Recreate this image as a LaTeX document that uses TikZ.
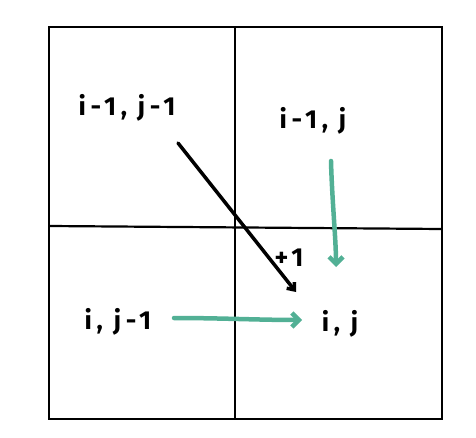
\documentclass[tikz,border=0pt]{standalone}
\usepackage{fontspec}
\setmainfont[LetterSpace=18]{Fira Sans}
\usetikzlibrary{arrows.meta}
\definecolor{tealg}{HTML}{52B095}
\tikzset{
  grid/.style={line width=2.2pt, black},
  lbl/.style={font=\fontsize{26}{30}\selectfont\bfseries, inner sep=1pt},
  blackarrow/.style={line width=3.5pt, black, line cap=round, -{Straight Barb[length=6pt,width=10pt,line width=3.5pt]}},
  greenarrow/.style={line width=4.5pt, tealg, line cap=round, -{Straight Barb[length=7pt,width=14pt,line width=4.5pt]}}
}
\begin{document}
\begin{tikzpicture}[x=1pt,y=-1pt]
\useasboundingbox (0,0) rectangle (476,438);
% outer square and dividing lines
\draw[grid] (49,27) rectangle (442,419);
\coordinate (vt) at (235,27);
\coordinate (vb) at (235,419);
\coordinate (hl) at (49,226);
\coordinate (hr) at (442,229);
\draw[grid] (vt) -- (vb);
\draw[grid] (hl) -- (hr);
% labels
\node[lbl] (a) at (127,108) {i-1, j-1};
\node[lbl] (b) at (313,121) {i-1, j};
\node[lbl] (c) at (118,322) {i, j-1};
\node[lbl] (d) at (340,324) {i, j};
\node[lbl] (p) at (289,258) {+1};
% connector end points
\coordinate (a1) at (178,143);
\coordinate (d1) at (296,292);
\coordinate (b1) at (331,161);
\coordinate (d2) at (336,267);
\coordinate (c1) at (174,318);
\coordinate (d3) at (302,320);
\draw[blackarrow] (a1) -- (d1);
\draw[greenarrow] (b1) .. controls (332,200) and (336,240) .. (d2);
\draw[greenarrow] (c1) .. controls (220,318) and (260,320) .. (d3);
\end{tikzpicture}
\end{document}
